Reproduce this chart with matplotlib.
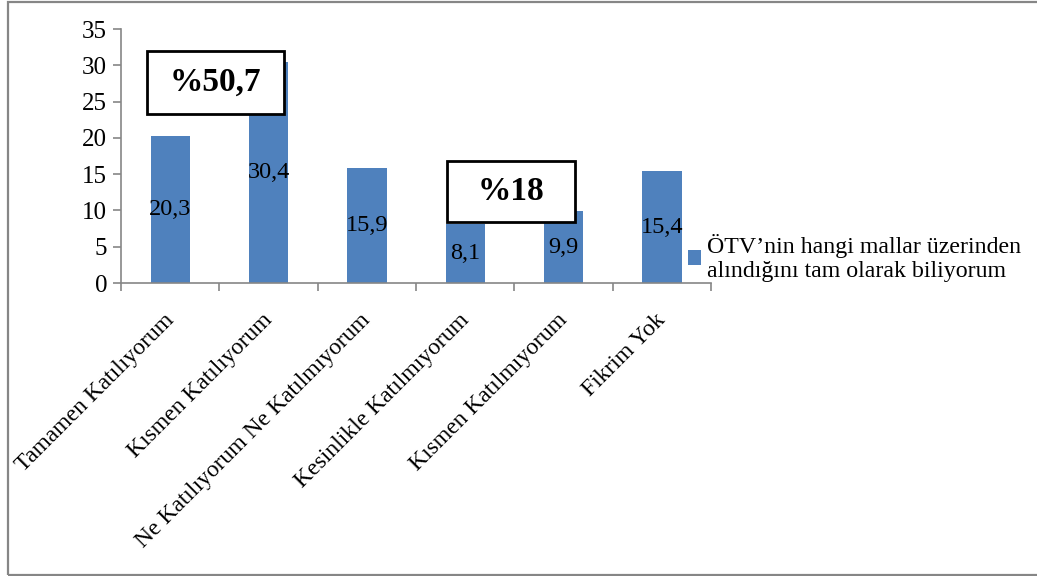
import matplotlib
matplotlib.use("Agg")
import matplotlib.pyplot as plt
from matplotlib.patches import Rectangle, Patch

plt.rcParams['font.family'] = ['Liberation Serif', 'DejaVu Serif']

categories = [
    "Tamamen Katılıyorum",
    "Kısmen Katılıyorum",
    "Ne Katılıyorum Ne Katılmıyorum",
    "Kesinlikle Katılmıyorum",
    "Kısmen Katılmıyorum",
    "Fikrim Yok",
]
values = [20.3, 30.4, 15.9, 8.1, 9.9, 15.4]
value_labels = ["20,3", "30,4", "15,9", "8,1", "9,9", "15,4"]
series_name = "ÖTV’nin hangi mallar üzerinden\nalındığını tam olarak biliyorum"
y_ticks = [0, 5, 10, 15, 20, 25, 30, 35]
group_labels = ["%50,7", "%18"]

bar_color = "#4F81BD"
axis_color = "#868686"
W, H = 1037, 576

fig = plt.figure(figsize=(W / 100, H / 100), dpi=100)

# chart-area frame (right edge runs past the canvas)
fig.patches.append(Rectangle((8 / W, 1.5 / H), 1.1, (574.5 - 1.5) / H,
                             transform=fig.transFigure, fill=False,
                             edgecolor=axis_color, linewidth=1.6))

ax = fig.add_axes([121 / W, 293 / H, 590 / W, 254 / H])
x = list(range(len(categories)))
bars = ax.bar(x, values, width=0.40, color=bar_color, zorder=2)

for xi, v, lab in zip(x, values, value_labels):
    ax.text(xi, v / 2, lab, ha="center", va="center", fontsize=17.5, zorder=3)

ax.set_xlim(-0.5, len(categories) - 0.5)
ax.set_ylim(0, 35)
ax.set_yticks(y_ticks)
ax.set_yticklabels([str(t) for t in y_ticks], fontsize=18)

# rotated category labels hanging below each bar
ax.set_xticks([])
for xi, cat in zip(x, categories):
    ax.annotate(cat, xy=(xi, 0), xycoords=("data", "axes fraction"),
                xytext=(-7, -27), textcoords="offset pixels",
                rotation=45, ha="right", va="top", rotation_mode="anchor",
                fontsize=17, annotation_clip=False)
ax.set_xticks([i - 0.5 for i in range(len(categories) + 1)], minor=True)
ax.tick_params(axis="x", which="minor", length=6, color=axis_color, width=1.2)
ax.tick_params(axis="y", length=6, color=axis_color, width=1.2, pad=4)

for side in ["top", "right"]:
    ax.spines[side].set_visible(False)
for side in ["left", "bottom"]:
    ax.spines[side].set_color(axis_color)
    ax.spines[side].set_linewidth(1.2)

# group-total callout boxes
for (x0, y0, x1, y1), txt in zip([(147, 51, 284, 114), (447, 161, 575, 222)], group_labels):
    fig.patches.append(Rectangle((x0 / W, 1 - y1 / H), (x1 - x0) / W, (y1 - y0) / H,
                                 transform=fig.transFigure, facecolor="white",
                                 edgecolor="black", linewidth=2, zorder=5))
    fig.text((x0 + x1) / 2 / W, 1 - (y0 + y1) / 2 / H, txt, ha="center", va="center",
             fontsize=24, fontweight="bold", zorder=6)

handle = Patch(facecolor=bar_color, edgecolor="none")
fig.legend([handle], [series_name], loc="center left",
           bbox_to_anchor=(688 / W, 1 - 258 / H), frameon=False, fontsize=17.2,
           handlelength=0.55, handleheight=0.55, handletextpad=0.25,
           borderaxespad=0, borderpad=0, labelspacing=0.1)

fig.savefig("out.png", dpi=100)
